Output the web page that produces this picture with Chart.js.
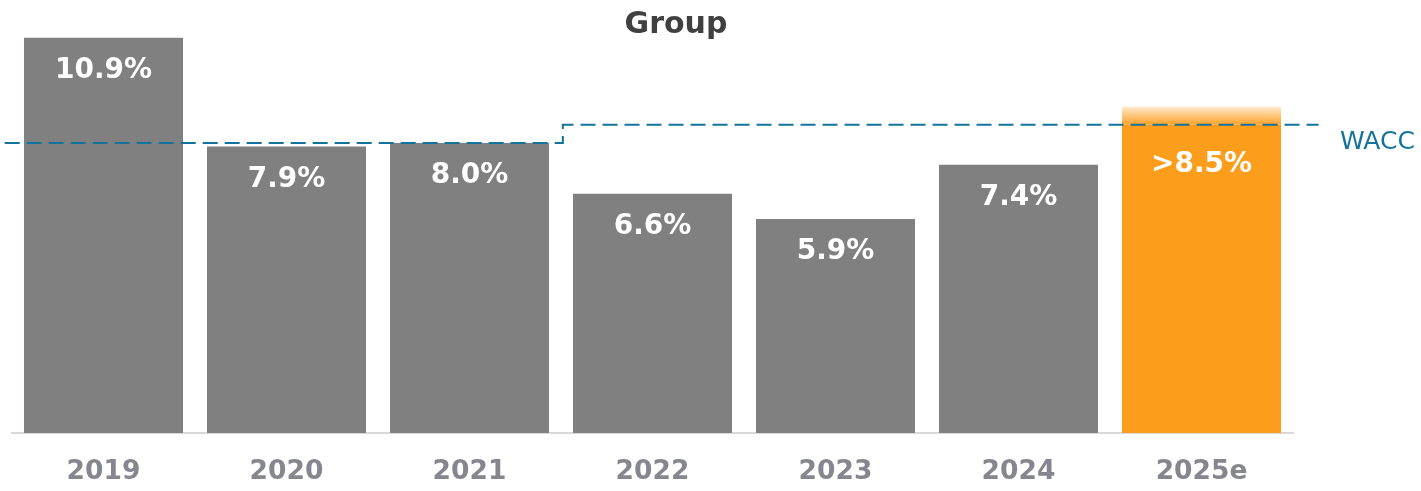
<!DOCTYPE html>
<html>
<head>
<meta charset="utf-8">
<script src="https://cdn.jsdelivr.net/npm/chart.js@4"></script>
<style>
  html, body { margin: 0; padding: 0; background: #ffffff; }
  #wrap { position: relative; width: 1421px; height: 491px; }
</style>
</head>
<body>
<div id="wrap"><canvas id="c" width="1421" height="491"></canvas></div>
<script>
// ---- data ----
const categories = ['2019', '2020', '2021', '2022', '2023', '2024', '2025e'];
const roceValues = [10.9, 7.9, 8.0, 6.6, 5.9, 7.4, 8.5];
const valueLabels = ['10.9%', '7.9%', '8.0%', '6.6%', '5.9%', '7.4%', '>8.5%'];
const upsideFade = [0, 0, 0, 0, 0, 0, 0.5];      // faded upside on the estimate bar
const waccX = [-0.54, 2.51, 2.51, 6.64];           // category-index units
const waccY = [8.0, 8.0, 8.5, 8.5];
const titleText = 'Group';
const waccLabel = 'WACC';

const GREY = '#808080';
const ORANGE = '#fd9d1c';
const WACC_COLOR = '#14739b';

const barColors = categories.map((c, i) => i === categories.length - 1 ? ORANGE : GREY);

const fadeFill = (ctx) => {
  const chart = ctx.chart;
  if (!chart.chartArea) return 'rgba(253,157,28,0.4)';
  const y = chart.scales.y;
  const i = ctx.dataIndex;
  const base = roceValues[i];
  const top = base + upsideFade[i];
  const g = chart.ctx.createLinearGradient(0, y.getPixelForValue(top), 0, y.getPixelForValue(base));
  g.addColorStop(0, 'rgba(253,157,28,0.22)');
  g.addColorStop(1, 'rgba(253,157,28,0.95)');
  return g;
};

const overlayPlugin = {
  id: 'overlay',
  afterDatasetsDraw(chart) {
    const { ctx, chartArea } = chart;
    const y = chart.scales.y;
    const meta = chart.getDatasetMeta(0);
    ctx.save();
    // value labels inside bars
    ctx.fillStyle = '#ffffff';
    ctx.font = 'bold 28px "DejaVu Sans", Verdana, sans-serif';
    ctx.textAlign = 'center';
    ctx.textBaseline = 'alphabetic';
    meta.data.forEach((bar, i) => {
      const extra = i === categories.length - 1 ? 47 : 40;
      ctx.fillText(valueLabels[i], bar.x, y.getPixelForValue(roceValues[i]) + extra);
    });
    // WACC label
    ctx.fillStyle = WACC_COLOR;
    ctx.font = '25px "DejaVu Sans", Verdana, sans-serif';
    ctx.textAlign = 'left';
    ctx.fillText(waccLabel, chartArea.right + 47, y.getPixelForValue(waccY[0]) + 6);
    // title
    ctx.fillStyle = '#404040';
    ctx.font = 'bold 30px "DejaVu Sans", Verdana, sans-serif';
    ctx.textAlign = 'center';
    ctx.fillText(titleText, 676, 33);
    ctx.restore();
  }
};

new Chart(document.getElementById('c'), {
  type: 'bar',
  data: {
    labels: categories,
    datasets: [
      {
        type: 'bar',
        data: roceValues,
        backgroundColor: barColors,
        barPercentage: 0.869,
        categoryPercentage: 1.0,
        grouped: false,
        stack: 's',
        order: 2
      },
      {
        type: 'bar',
        data: upsideFade,
        backgroundColor: fadeFill,
        barPercentage: 0.869,
        categoryPercentage: 1.0,
        grouped: false,
        stack: 's',
        order: 3
      },
      {
        type: 'line',
        xAxisID: 'x2',
        data: waccX.map((x, i) => ({ x: x, y: waccY[i] })),
        borderColor: WACC_COLOR,
        borderWidth: 2,
        borderDash: [15, 7],
        pointRadius: 0,
        fill: false,
        clip: false,
        tension: 0,
        order: 1
      }
    ]
  },
  options: {
    responsive: false,
    animation: false,
    devicePixelRatio: 1,
    layout: { padding: { left: 12, right: 128, top: 16, bottom: 0 } },
    plugins: {
      legend: { display: false },
      title: { display: false },
      tooltip: { enabled: false }
    },
    scales: {
      x: {
        type: 'category',
        stacked: true,
        offset: true,
        grid: { display: false, drawTicks: false },
        border: { display: true, color: '#d9d9d9', width: 2 },
        ticks: {
          color: '#86868e',
          font: { family: '"DejaVu Sans", Verdana, sans-serif', size: 26.5, weight: 'bold' },
          padding: 23
        },
        afterFit(scale) { scale.height = 58; }
      },
      x2: {
        type: 'linear',
        display: false,
        offset: false,
        grid: { offset: false },
        min: -0.5,
        max: 6.5
      },
      y: {
        type: 'linear',
        stacked: true,
        display: false,
        min: 0,
        max: 11.5
      }
    }
  },
  plugins: [overlayPlugin]
});
</script>
</body>
</html>
